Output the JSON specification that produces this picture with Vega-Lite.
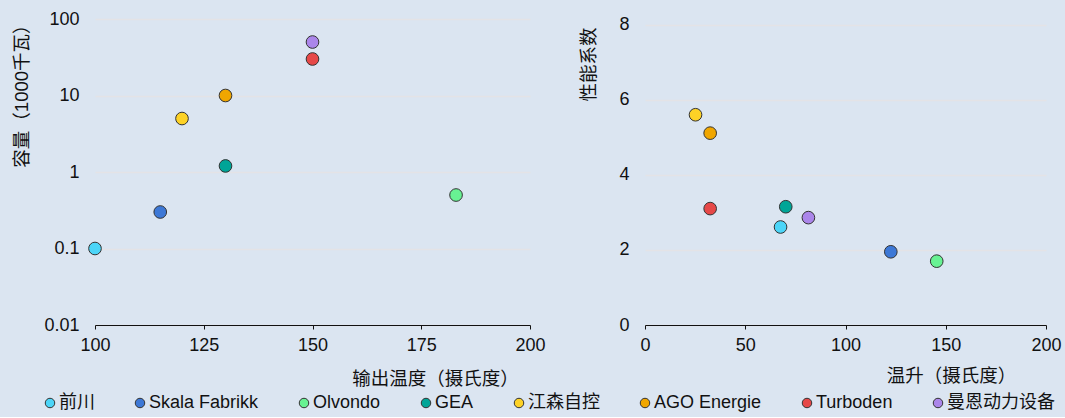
{
  "$schema": "https://vega.github.io/schema/vega-lite/v6.json",
  "background": "#dbe5f1",
  "padding": {"left": 12, "top": 10, "right": 5, "bottom": 5},
  "data": {
    "values": [
      {"company": "前川", "outT": 100, "cap": 0.1, "lift": 67.6, "cop": 2.61},
      {"company": "Skala Fabrikk", "outT": 115, "cap": 0.3, "lift": 122.6, "cop": 1.95},
      {"company": "Olvondo", "outT": 183, "cap": 0.5, "lift": 145.5, "cop": 1.7},
      {"company": "GEA", "outT": 130, "cap": 1.2, "lift": 70.2, "cop": 3.15},
      {"company": "江森自控", "outT": 120, "cap": 5, "lift": 25.2, "cop": 5.6},
      {"company": "AGO Energie", "outT": 130, "cap": 10, "lift": 32.5, "cop": 5.11},
      {"company": "Turboden", "outT": 150, "cap": 30, "lift": 32.5, "cop": 3.1},
      {"company": "曼恩动力设备", "outT": 150, "cap": 50, "lift": 81.5, "cop": 2.86}
    ]
  },
  "hconcat": [
    {
      "width": 435,
      "height": 306,
      "mark": {"type": "point", "filled": true, "size": 160, "stroke": "#333333", "strokeWidth": 1, "opacity": 1},
      "encoding": {
        "x": {
          "field": "outT", "type": "quantitative",
          "scale": {"domain": [100, 200], "nice": false},
          "axis": {"values": [100, 125, 150, 175, 200], "title": "输出温度（摄氏度）", "grid": false,
                   "titleX": 340, "titleY": 53, "titleBaseline": "middle", "titleAlign": "center"}
        },
        "y": {
          "field": "cap", "type": "quantitative",
          "scale": {"type": "log", "domain": [0.01, 100], "nice": false},
          "axis": {"values": [0.01, 0.1, 1, 10, 100], "format": "~g", "title": "容量（1000千瓦）",
                   "domain": false, "ticks": false, "labelPadding": 16, "titlePadding": 12,
                   "titleY": -4, "titleAlign": "right", "titleBaseline": "bottom"}
        },
        "color": {
          "field": "company", "type": "nominal",
          "scale": {
            "domain": ["前川", "Skala Fabrikk", "Olvondo", "GEA", "江森自控", "AGO Energie", "Turboden", "曼恩动力设备"],
            "range": ["#4cd5f8", "#3d78d6", "#68f293", "#00a597", "#fdd226", "#f0a600", "#e64848", "#ab86ea"]
          },
          "legend": {"title": null, "orient": "none", "direction": "horizontal", "legendX": -54, "legendY": 375}
        }
      }
    },
    {
      "width": 401,
      "height": 306,
      "mark": {"type": "point", "filled": true, "size": 160, "stroke": "#333333", "strokeWidth": 1, "opacity": 1},
      "encoding": {
        "x": {
          "field": "lift", "type": "quantitative",
          "scale": {"domain": [0, 200], "nice": false},
          "axis": {"values": [0, 50, 100, 150, 200], "title": "温升（摄氏度）", "grid": false,
                   "titleX": 306, "titleY": 50, "titleBaseline": "middle", "titleAlign": "center"}
        },
        "y": {
          "field": "cop", "type": "quantitative",
          "scale": {"domain": [0, 8.15], "nice": false},
          "axis": {"values": [0, 2, 4, 6, 8], "title": "性能系数",
                   "domain": false, "ticks": false, "labelPadding": 16, "titlePadding": 20,
                   "titleY": 8, "titleAlign": "right", "titleBaseline": "bottom"}
        },
        "color": {"field": "company", "type": "nominal"}
      }
    }
  ],
  "spacing": 33,
  "config": {
    "font": "Liberation Sans, Arial, Noto Sans CJK SC",
    "view": {"stroke": null},
    "axis": {
      "labelFontSize": 18, "titleFontSize": 18.5, "titleFontWeight": "normal",
      "labelColor": "#111111", "titleColor": "#111111", "labelFlush": false,
      "gridColor": "#e4e3e6", "gridWidth": 1.5,
      "domainColor": "#111111", "tickColor": "#111111", "tickSize": 4, "labelPadding": 7
    },
    "legend": {
      "labelFontSize": 18, "labelColor": "#111111", "symbolType": "circle", "symbolSize": 90,
      "symbolStrokeColor": "#333333", "symbolStrokeWidth": 1, "symbolOpacity": 1,
      "columnPadding": 36, "labelOffset": 0
    }
  }
}
